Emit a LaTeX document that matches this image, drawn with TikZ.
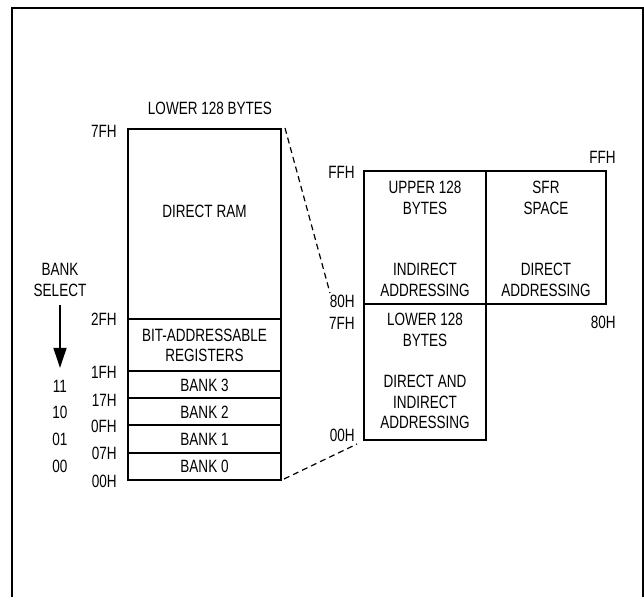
\documentclass[tikz,border=0pt]{standalone}
\usepackage{fontspec}
\setmainfont{Liberation Sans}[FakeStretch=0.76]
\usetikzlibrary{arrows.meta}

\begin{document}
\begin{tikzpicture}[x=0.5pt,y=-0.5pt]
\tikzstyle{every node}+=[inner sep=0pt, font=\fontsize{8.9}{10.3}\selectfont, align=center]
\tikzset{mapline/.style={black, line width=0.65pt},
  splitline/.style={black, line width=1pt},
  link/.style={black, line width=0.6pt, dash pattern=on 3pt off 2pt}}
\useasboundingbox (0,0) rectangle (644,597);
% frame
\draw [black, line width=1.1pt] (12,597) -- (12,8) -- (643,8) -- (643,597);
% lower 128 bytes
\draw [mapline] (128,129) rectangle (281,480);
\foreach \y in {319,371,398,425,453}
  \draw [mapline] (128,\y) -- (281,\y);
\coordinate (l7F) at (285,128);
\coordinate (l00) at (284,479);
\node (hdr) at (210,108) {LOWER 128 BYTES};
\foreach \y/\t in {131/7FH,319/2FH,372/1FH,400/17H,426/0FH,453/07H,481/00H}
  \node [anchor=east] (a\t) at (117,\y) {\t};
\node (ram) at (204.5,211) {DIRECT RAM};
\node (bit) at (204.5,345.5) {BIT-ADDRESSABLE\\REGISTERS};
\foreach \y/\n in {385/3,412/2,439/1,466/0}
  \node (bank\n) at (204.5,\y) {BANK \n};
% bank select
\node (sel) at (60,280) {BANK\\SELECT};
\coordinate (selTop) at (60,305);
\coordinate (selTip) at (60,368);
\draw [black, line width=0.65pt, -{Triangle[length=10pt,width=6.5pt]}] (selTop) -- (selTip);
\foreach \y/\t in {386/11,412/10,439/01,466/00}
  \node (s\t) at (60,\y) {\t};
% 256 byte space
\draw [mapline] (364,171) rectangle (606,304);
\draw [mapline] (364,304) rectangle (486,440);
\draw [splitline] (486,171) -- (486,304) -- (364,304);
\node [anchor=east] (uFF) at (355,172) {FFH};
\node [anchor=east] (u80) at (355,301) {80H};
\node [anchor=east] (u7F) at (355,323) {7FH};
\node [anchor=east] (u00) at (355,435) {00H};
\node [anchor=east] (sFF) at (616,157) {FFH};
\node [anchor=east] (s80) at (616,322) {80H};
\node (upper) at (425,198) {UPPER 128\\BYTES};
\node (indir) at (425,280) {INDIRECT\\ADDRESSING};
\node (sfr) at (546,198) {SFR\\SPACE};
\node (dir) at (546,280) {DIRECT\\ADDRESSING};
\node (lower) at (425,330) {LOWER 128\\BYTES};
\node (both) at (425,402) {DIRECT AND\\INDIRECT\\ADDRESSING};
\coordinate (r80) at (330,293);
\coordinate (r00) at (357,444);
\draw [link] (l7F) -- (r80);
\draw [link] (l00) -- (r00);
\end{tikzpicture}
\end{document}
